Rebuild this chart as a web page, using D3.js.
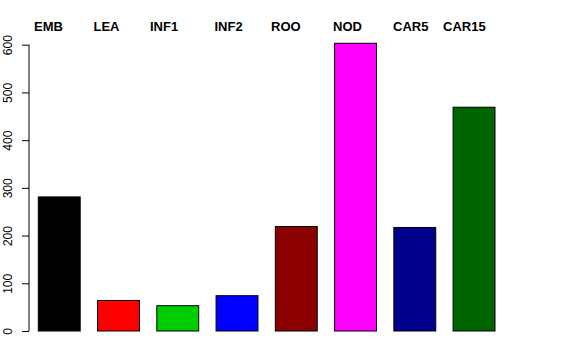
<!DOCTYPE html>
<html><head><meta charset="utf-8">
<script src="https://cdn.jsdelivr.net/npm/d3@7"></script>
<style>body{margin:0;background:#fff}svg{display:block}</style>
</head><body>
<script>
const categories = ["EMB","LEA","INF1","INF2","ROO","NOD","CAR5","CAR15"];
const values = [281, 64, 53, 74, 219, 603, 217, 469];
const colors = ["#000000","#FF0000","#00CD00","#0000FF","#8B0000","#FF00FF","#00008B","#006400"];
const yTicks = [0,100,200,300,400,500,600];
// layout: left edge of each header label
const labelX = [34, 93.5, 150, 214.5, 271, 333, 393, 443];

const W=576,H=360;
const svg=d3.select("body").append("svg").attr("width",W).attr("height",H);
const x=d3.scaleBand().domain(categories).range([38.3,495]).paddingInner(0.293).paddingOuter(0);
const y=d3.scaleLinear().domain([0,600]).range([331,44.7]);

svg.selectAll("rect.bar").data(categories).join("rect").attr("class","bar")
  .attr("x",d=>x(d)).attr("width",x.bandwidth())
  .attr("y",(d,i)=>y(values[i])).attr("height",(d,i)=>y(0)-y(values[i]))
  .attr("fill",(d,i)=>colors[i]).attr("stroke","#000").attr("stroke-width",1);

const ax=svg.append("g").attr("transform","translate(29,0)")
  .call(d3.axisLeft(y).tickValues(yTicks).tickSize(7).tickPadding(0).tickFormat(d3.format("d")));
ax.select(".domain").attr("d",`M0,${y(0)}V${y(600)}`).attr("stroke","#000");
ax.selectAll(".tick line").attr("stroke","#000");
ax.selectAll(".tick text").attr("transform","rotate(-90)").attr("x",0).attr("y",-17)
  .attr("dy","0").attr("text-anchor","middle")
  .style("font-family","'Liberation Sans',Arial,sans-serif").style("font-size","12px").attr("fill","#000");

svg.selectAll("text.hdr").data(categories).join("text").attr("class","hdr")
  .attr("x",(d,i)=>labelX[i]).attr("y",31).text(d=>d)
  .style("font-family","'Liberation Sans',Arial,sans-serif").style("font-size","13px").style("font-weight","bold");
</script>
</body></html>
